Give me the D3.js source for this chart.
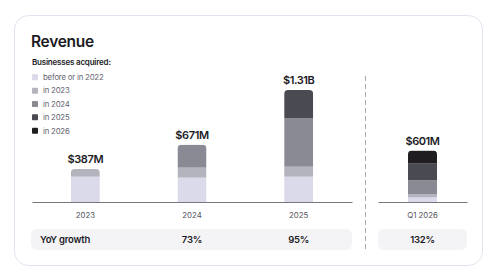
<!DOCTYPE html>
<html>
<head>
<meta charset="utf-8">
<script src="https://cdn.jsdelivr.net/npm/d3@7"></script>
<style>
  body { margin: 0; background: #ffffff; }
  svg text { font-family: Inter, "Noto Sans", sans-serif; }
</style>
</head>
<body>
<div id="svg-area"></div>
<script>
// data (values in $M)
var years = ["2023", "2024", "2025"]
var quarter = ["Q1 2026"]
var cohorts = ["before or in 2022", "in 2023", "in 2024", "in 2025", "in 2026"]
var cohortColors = ["#dadaea", "#b4b4bf", "#8a8a94", "#4a4b52", "#1f1d20"]

var before2022 = [296, 285, 296, 54]
var in2023 = [91, 117, 117, 35]
var in2024 = [0, 269, 566, 165]
var in2025 = [0, 0, 331, 200]
var in2026 = [0, 0, 0, 147]

var totalLabels = ["$387M", "$671M", "$1.31B", "$601M"]
var yoyGrowth = ["73%", "95%", "132%"]

var width = 492
var height = 280

var svg = d3.select("#svg-area")
  .append("svg")
  .attr("width", width)
  .attr("height", height);

// card
svg.append("rect")
  .attr("x", 14.5)
  .attr("y", 15.5)
  .attr("width", 468)
  .attr("height", 250)
  .attr("rx", 14)
  .attr("fill", "#ffffff")
  .attr("stroke", "#e3e3ef");

svg.append("text")
  .attr("x", 31)
  .attr("y", 47)
  .attr("font-size", 15.5)
  .attr("font-weight", 600)
  .attr("fill", "#1b1b1f")
  .attr("letter-spacing", -0.3)
  .text("Revenue");

svg.append("text")
  .attr("x", 32)
  .attr("y", 65)
  .attr("font-size", 8)
  .attr("font-weight", 600)
  .attr("fill", "#1b1b1f")
  .attr("letter-spacing", -0.2)
  .text("Businesses acquired:");

// legend
var legend = svg.selectAll(".legend")
  .data(cohorts)
  .enter()
  .append("g")
  .attr("transform", function (d, i) { return "translate(32," + (77.3 + i * 13.35) + ")" });

legend.append("rect")
  .attr("x", 0)
  .attr("y", -3)
  .attr("width", 6)
  .attr("height", 6)
  .attr("rx", 0.8)
  .attr("fill", function (d, i) { return cohortColors[i] });

legend.append("text")
  .attr("x", 11)
  .attr("y", 2.8)
  .attr("font-size", 7.8)
  .attr("fill", "#666670")
  .attr("letter-spacing", -0.2)
  .text(function (d) { return d });

// build rows for the stack
var rows = years.concat(quarter).map(function (p, i) {
  return {
    period: p,
    c0: before2022[i], c1: in2023[i], c2: in2024[i], c3: in2025[i], c4: in2026[i],
    label: totalLabels[i]
  }
})
var keys = ["c0", "c1", "c2", "c3", "c4"]
var stacked = d3.stack().keys(keys)(rows)

// scales
var baseY = 202
var y = d3.scaleLinear().domain([0, 1310]).range([baseY, 90])
var xYears = d3.scaleBand().domain(years).range([32, 352])
var xQ = d3.scaleBand().domain(quarter).range([378, 467])
var barW = 29

function xCenter(p) {
  if (p === "Q1 2026") { return xQ(p) + xQ.bandwidth() / 2 }
  return xYears(p) + xYears.bandwidth() / 2
}

// clip every bar to a rounded-top shape
var defs = svg.append("defs")
rows.forEach(function (r, i) {
  var total = r.c0 + r.c1 + r.c2 + r.c3 + r.c4
  var x0 = xCenter(r.period) - barW / 2
  var top = y(total)
  var rad = 4
  defs.append("clipPath")
    .attr("id", "clip" + i)
    .append("path")
    .attr("d", "M" + x0 + "," + baseY +
      "V" + (top + rad) +
      "Q" + x0 + "," + top + " " + (x0 + rad) + "," + top +
      "H" + (x0 + barW - rad) +
      "Q" + (x0 + barW) + "," + top + " " + (x0 + barW) + "," + (top + rad) +
      "V" + baseY + "Z")
})

// segments
stacked.forEach(function (layer, k) {
  svg.selectAll(".seg" + k)
    .data(layer)
    .enter()
    .append("rect")
    .attr("clip-path", function (d, i) { return "url(#clip" + i + ")" })
    .attr("x", function (d) { return xCenter(d.data.period) - barW / 2 })
    .attr("y", function (d) { return y(d[1]) })
    .attr("width", barW)
    .attr("height", function (d) { return Math.max(0, y(d[0]) - y(d[1])) })
    .attr("fill", cohortColors[k])
})

// value labels
svg.selectAll(".total")
  .data(rows)
  .enter()
  .append("text")
  .attr("x", function (d) { return xCenter(d.period) })
  .attr("y", function (d) { return y(d.c0 + d.c1 + d.c2 + d.c3 + d.c4) - 6 })
  .attr("text-anchor", "middle")
  .attr("font-size", 11)
  .attr("font-weight", 600)
  .attr("letter-spacing", -0.4)
  .attr("fill", "#1b1b1f")
  .text(function (d) { return d.label });

// axes
var axisYears = svg.append("g")
  .attr("transform", "translate(0," + baseY + ")")
  .call(d3.axisBottom(xYears).tickSize(0).tickPadding(10))
var axisQ = svg.append("g")
  .attr("transform", "translate(0," + baseY + ")")
  .call(d3.axisBottom(xQ).tickSize(0).tickPadding(10))

svg.selectAll(".domain").attr("stroke", "#77777d").attr("stroke-width", 1)
svg.selectAll(".tick text")
  .attr("font-size", 7.8)
  .attr("fill", "#55555c")
  .attr("font-family", "Inter, 'Noto Sans', sans-serif")

// divider
svg.append("line")
  .attr("x1", 365.5)
  .attr("x2", 365.5)
  .attr("y1", 76)
  .attr("y2", 251)
  .attr("stroke", "#a8a8b0")
  .attr("stroke-dasharray", "5,3");

// YoY growth row
svg.append("rect")
  .attr("x", 31).attr("y", 229).attr("width", 321).attr("height", 21)
  .attr("rx", 6).attr("fill", "#f4f4f7");
svg.append("rect")
  .attr("x", 378).attr("y", 229).attr("width", 89).attr("height", 21)
  .attr("rx", 6).attr("fill", "#f4f4f7");

svg.append("text")
  .attr("x", 40)
  .attr("y", 243)
  .attr("font-size", 9.5)
  .attr("font-weight", 600)
  .attr("fill", "#1b1b1f")
  .attr("letter-spacing", -0.2)
  .text("YoY growth");

svg.selectAll(".yoy")
  .data(["2024", "2025", "Q1 2026"])
  .enter()
  .append("text")
  .attr("x", function (d) { return xCenter(d) })
  .attr("y", 243)
  .attr("text-anchor", "middle")
  .attr("font-size", 9.5)
  .attr("font-weight", 600)
  .attr("fill", "#1b1b1f")
  .attr("letter-spacing", -0.2)
  .text(function (d, i) { return yoyGrowth[i] });
</script>
</body>
</html>
